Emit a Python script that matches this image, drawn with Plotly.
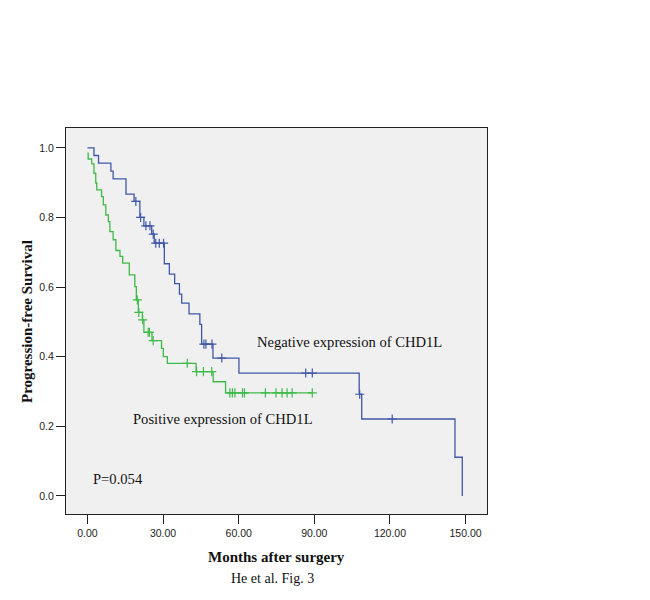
import plotly.graph_objects as go

# Negative expression of CHD1L (blue) - KM step points
neg_t = [0, 2.6, 4.4, 9.3, 10.2, 15.3, 18.5, 20.8, 22.4, 25.5, 26.5, 30.5, 32.5, 34.6,
         36.5, 37.4, 40.3, 44.6, 45.3, 49.8, 60.1, 107.8, 108.8, 145.8, 148.7]
neg_s = [1.0, 0.978, 0.956, 0.933, 0.911, 0.867, 0.846, 0.800, 0.776, 0.752, 0.726, 0.667,
         0.637, 0.610, 0.580, 0.554, 0.523, 0.493, 0.436, 0.396, 0.353, 0.292, 0.221, 0.111, 0.0]
neg_cens_t = [19.2, 21.1, 23.2, 24.8, 26.1, 27.1, 28.5, 30.2, 46.2, 47.0, 49.4, 53.3,
              86.6, 89.2, 108.0, 120.9]
neg_cens_s = [0.846, 0.800, 0.776, 0.776, 0.752, 0.726, 0.726, 0.726, 0.436, 0.436, 0.436,
              0.396, 0.353, 0.353, 0.292, 0.221]

# Positive expression of CHD1L (green)
pos_t = [0, 0.3, 1.7, 2.6, 3.3, 3.7, 5.6, 6.3, 7.3, 8.3, 8.9, 10.2, 11.3, 12.9, 14.0, 16.6,
         18.8, 19.4, 20.2, 21.8, 22.4, 25.6, 29.4, 30.1, 31.7, 43.1, 49.9, 54.8, 89.2]
pos_s = [0.985, 0.968, 0.954, 0.927, 0.899, 0.879, 0.860, 0.836, 0.807, 0.788, 0.759, 0.736,
         0.705, 0.688, 0.669, 0.635, 0.601, 0.563, 0.527, 0.506, 0.470, 0.446, 0.424, 0.400,
         0.381, 0.357, 0.328, 0.296, 0.296]
pos_cens_t = [19.8, 20.4, 21.9, 24.1, 24.6, 26.1, 39.6, 43.3, 46.0, 49.3, 56.5, 57.5, 58.5,
              61.5, 62.3, 70.6, 74.8, 77.2, 79.2, 81.2, 89.2]
pos_cens_s = [0.563, 0.527, 0.506, 0.470, 0.470, 0.446, 0.381, 0.357, 0.357, 0.357,
              0.296, 0.296, 0.296, 0.296, 0.296, 0.296, 0.296, 0.296, 0.296, 0.296, 0.296]

x_ticks = [0, 30, 60, 90, 120, 150]
y_ticks = [0.0, 0.2, 0.4, 0.6, 0.8, 1.0]

BLUE = "#3f58a8"
GREEN = "#3fba48"
SERIF = "Liberation Serif, Times New Roman, serif"
SANS = "Liberation Sans, Arial, sans-serif"

fig = go.Figure()
fig.add_trace(go.Scatter(x=pos_t, y=pos_s, mode="lines", line=dict(color=GREEN, width=1.3, shape="hv"),
                         showlegend=False, hoverinfo="skip"))
fig.add_trace(go.Scatter(x=pos_cens_t, y=pos_cens_s, mode="markers",
                         marker=dict(symbol="cross-thin", size=6.5, line=dict(color=GREEN, width=1.2)),
                         showlegend=False, hoverinfo="skip"))
fig.add_trace(go.Scatter(x=neg_t, y=neg_s, mode="lines", line=dict(color=BLUE, width=1.3, shape="hv"),
                         showlegend=False, hoverinfo="skip"))
fig.add_trace(go.Scatter(x=neg_cens_t, y=neg_cens_s, mode="markers",
                         marker=dict(symbol="cross-thin", size=6.5, line=dict(color=BLUE, width=1.2)),
                         showlegend=False, hoverinfo="skip"))

fig.add_annotation(x=103.8, y=0.4425, text="Negative expression of CHD1L", showarrow=False,
                   font=dict(family=SERIF, size=14.6, color="#111"))
fig.add_annotation(x=53.8, y=0.221, text="Positive expression of CHD1L", showarrow=False,
                   font=dict(family=SERIF, size=14.6, color="#111"))
fig.add_annotation(x=12.1, y=0.049, text="P=0.054", showarrow=False,
                   font=dict(family=SERIF, size=14.6, color="#111"))
fig.add_annotation(xref="paper", yref="paper", x=(276.8 - 66) / 421, y=(514 - 557.3) / 386,
                   text="<b>Months after surgery</b>", showarrow=False, yanchor="middle",
                   font=dict(family=SERIF, size=15, color="#111"))
fig.add_annotation(xref="paper", yref="paper", x=(272.8 - 66) / 421, y=(514 - 578.3) / 386,
                   text="He et al. Fig. 3", showarrow=False, yanchor="middle",
                   font=dict(family=SERIF, size=14, color="#111"))
fig.add_annotation(xref="paper", yref="paper", x=(27 - 66) / 421, y=(514 - 322) / 386,
                   text="<b>Progression-free Survival</b>", showarrow=False, textangle=-90,
                   xanchor="center", yanchor="middle",
                   font=dict(family=SERIF, size=15, color="#111"))

fig.update_xaxes(range=[-8.5, 158.5], tickvals=x_ticks, tickformat=".2f", ticks="outside",
                 ticklen=9, tickcolor="#222", showline=True, linecolor="#222", linewidth=1,
                 mirror=True, showgrid=False, zeroline=False,
                 tickfont=dict(family=SANS, size=10.5, color="#222"))
fig.update_yaxes(range=[-0.052, 1.057], tickvals=y_ticks, tickformat=".1f", ticks="outside",
                 ticklen=9, tickcolor="#222", showline=True, linecolor="#222", linewidth=1,
                 mirror=True, showgrid=False, zeroline=False,
                 tickfont=dict(family=SANS, size=10.5, color="#222"))

# page body adds an 8px offset; margins compensate so the plot box lands at 66..487 x 128..514
fig.update_layout(width=634, height=584, margin=dict(l=58, r=155, t=120, b=78),
                  plot_bgcolor="#f0f0f0", paper_bgcolor="white")

fig.write_html("out.html")
